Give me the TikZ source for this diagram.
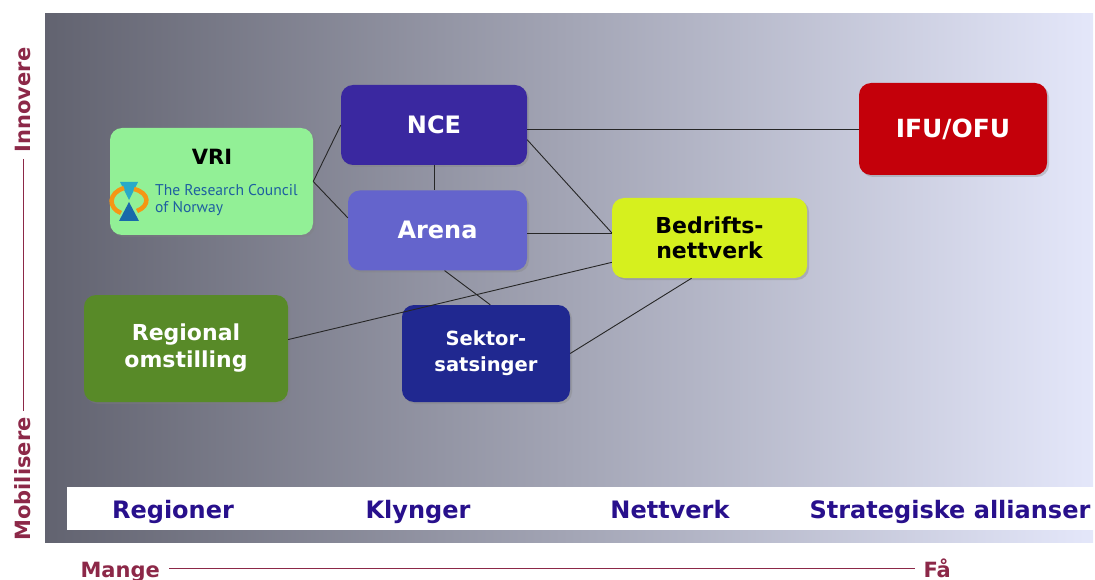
\documentclass[tikz,border=0pt]{standalone}
\usepackage{fontspec}
\setmainfont{DejaVu Sans}
\newfontfamily\rcnfont{PT Sans}
\usetikzlibrary{positioning,shadows}
\definecolor{panL}{RGB}{98,99,112}
\definecolor{panM}{RGB}{170,172,190}
\definecolor{panR}{RGB}{228,231,250}
\definecolor{vrigreen}{RGB}{146,240,150}
\definecolor{ncecol}{RGB}{58,40,160}
\definecolor{arenacol}{RGB}{100,100,204}
\definecolor{bedcol}{RGB}{214,240,30}
\definecolor{ifucol}{RGB}{196,0,10}
\definecolor{regcol}{RGB}{88,138,40}
\definecolor{sekcol}{RGB}{32,40,144}
\definecolor{bandtext}{RGB}{40,16,140}
\definecolor{maroon}{RGB}{140,40,72}
\definecolor{rcntext}{RGB}{30,95,160}
\definecolor{rcnteal}{RGB}{40,170,200}
\definecolor{rcnblue}{RGB}{25,105,170}
\definecolor{rcnorange}{RGB}{245,150,20}
\tikzset{
  tiltak/.style  = {drop shadow={shadow xshift=2pt,shadow yshift=-2pt,opacity=.35},
                   rounded corners=12pt, inner sep=0pt, align=center},
  vri/.style     = {tiltak, fill=vrigreen, minimum width=203pt, minimum height=107pt},
  nce/.style     = {tiltak, fill=ncecol, text=white, minimum width=186pt, minimum height=80pt,
                   font=\bfseries\fontsize{24}{28}\selectfont},
  arena/.style   = {tiltak, fill=arenacol, text=white, minimum width=179pt, minimum height=80pt,
                   font=\bfseries\fontsize{24}{28}\selectfont},
  nettverk/.style = {tiltak, fill=bedcol, text=black, minimum width=195pt, minimum height=80pt,
                   font=\bfseries\fontsize{22}{25}\selectfont},
  ifu/.style     = {tiltak, fill=ifucol, text=white, minimum width=188pt, minimum height=92pt,
                   font=\bfseries\fontsize{25}{29}\selectfont},
  regional/.style = {tiltak, fill=regcol, text=white, minimum width=204pt, minimum height=107pt,
                   font=\bfseries\fontsize{22}{27}\selectfont},
  sektor/.style  = {tiltak, fill=sekcol, text=white, minimum width=168pt, minimum height=97pt,
                   font=\bfseries\fontsize{19.5}{26}\selectfont},
  bandlbl/.style = {anchor=base, text=bandtext, font=\bfseries\fontsize{24}{28}\selectfont},
  axislbl/.style = {text=maroon, font=\bfseries\fontsize{21}{25}\selectfont},
  axisline/.style = {draw=maroon, line width=1pt},
  link/.style    = {draw=black!85, line width=0.9pt},
}

\begin{document}
\begin{tikzpicture}[x=1pt,y=-1pt]
      \useasboundingbox (0,0) rectangle (1095,580);
      %background and band
      \fill[left color=panL, middle color=panM, right color=panR] (45,14) rectangle (1093,542);
      \fill[white] (67,487) rectangle (1095,530);

      \node[bandlbl] (regioner) at (173,518) {Regioner};
      \node[bandlbl] (klynger) at (418,518) {Klynger};
      \node[bandlbl] (nettv) at (670,518) {Nettverk};
      \node[bandlbl] (allianser) at (950,518) {Strategiske allianser};

      %axes
      \node[axislbl, rotate=90] (innovere) at (23,100) {Innovere};
      \node[axislbl, rotate=90] (mobilisere) at (23,479) {Mobilisere};
      \draw[axisline, shorten <=3pt, shorten >=3pt] (innovere.west) -- (mobilisere.east);
      \node[axislbl, anchor=base west] (mange) at (77,577) {Mange};
      \node[axislbl, anchor=base west] (faa) at (920,577) {Få};
      \draw[axisline, shorten <=6pt, shorten >=5pt] ([yshift=9pt]mange.base east) -- ([yshift=9pt]faa.base west);

      %order has importance
      \node[vri] (vri) at (211.5,181.5) {};
      \node[anchor=base, font=\bfseries\fontsize{21}{25}\selectfont] (vritxt) at (212,165) {VRI};
      \node[anchor=north west, inner sep=0pt, align=left, text=rcntext,
            font=\rcnfont\fontsize{15.6}{17}\selectfont] (rcn) at (155,184) {The Research Council\\of Norway};
      \fill[rcnteal] (120,182) -- (138,182) -- (129,200) -- cycle;
      \fill[rcnblue] (129,202) -- (139,221) -- (119,221) -- cycle;
      \draw[rcnorange, line width=4.5pt] (124,188) .. controls (108,193) and (108,208) .. (121,213);
      \draw[rcnorange, line width=4.5pt] (134,189) .. controls (150,193) and (150,206) .. (137,211);

      \node[nce] (nce) at (434,125) {NCE};
      \node[arena, below=25pt of nce, xshift=3.5pt] (arena) {Arena};
      \node[nettverk] (bedrift) at (709.5,238) {Bedrifts-\\nettverk};
      \node[ifu] (ifu) at (953,129) {IFU/OFU};
      \node[regional] (regional) at (186,348.5) {Regional\\omstilling};
      \node[sektor] (sektor) at (486,353.5) {Sektor-\\satsinger};

      \draw[link] (vri.east) -- (nce.west);
      \draw[link] (vri.east) -- (arena.172);
      \draw[link] (nce.south) -- (nce.south |- arena.north);
      \draw[link] (ifu.west -| nce.east) -- (ifu.west);
      \draw[link] (nce.-9) -- (bedrift.177);
      \draw[link] (arena.-2) -- (arena.-2 -| bedrift.west);
      \draw[link] (arena.-80) -- (sektor.85);
      \draw[link] (regional.5) -- (bedrift.194);
      \draw[link] (sektor.east) -- (bedrift.-114);

  \end{tikzpicture}
\end{document}
